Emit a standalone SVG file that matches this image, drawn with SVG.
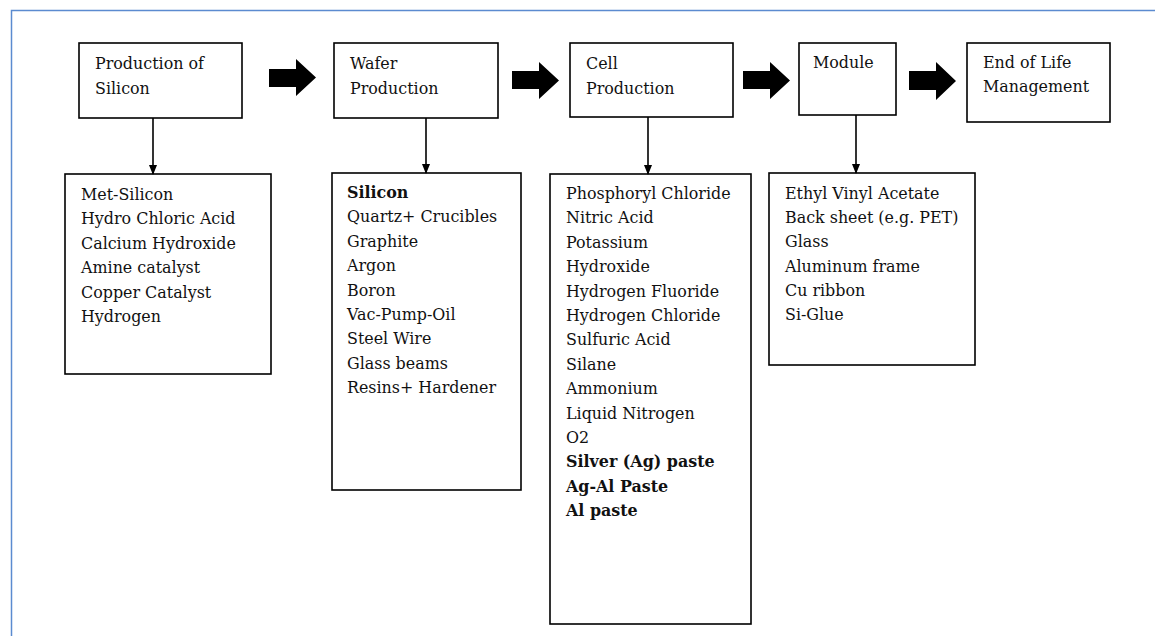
<svg xmlns="http://www.w3.org/2000/svg" width="1155" height="636" viewBox="0 0 1155 636">
<style>
.box{fill:#fff;stroke:#000;stroke-width:1.6}
.t{font-family:"DejaVu Serif","Liberation Serif",serif;font-size:15.9px;fill:#111}
.b{font-weight:bold}
.conn{stroke:#000;stroke-width:1.6;fill:none}
.blk{fill:#000}
</style>
<defs>
<marker id="ah" markerWidth="10" markerHeight="8" refX="9" refY="4" orient="auto" markerUnits="userSpaceOnUse">
<path d="M0,0 L10,4 L0,8 Z" fill="#000"/>
</marker>
</defs>
<rect width="1155" height="636" fill="#fff"/>
<path d="M11.5,640 V10.5 H1160" fill="none" stroke="#5b8bd0" stroke-width="1.5"/>

<g id="n1"><rect class="box" x="79" y="43" width="163" height="75"/><text class="t" x="95" y="69">Production of</text><text class="t" x="95" y="94">Silicon</text></g>
<g id="n2"><rect class="box" x="334" y="43" width="164" height="75"/><text class="t" x="350" y="69">Wafer</text><text class="t" x="350" y="94">Production</text></g>
<g id="n3"><rect class="box" x="570" y="43" width="163" height="74"/><text class="t" x="586" y="69">Cell</text><text class="t" x="586" y="94">Production</text></g>
<g id="n4"><rect class="box" x="799" y="43" width="97" height="72"/><text class="t" x="813" y="68">Module</text></g>
<g id="n5"><rect class="box" x="967" y="43" width="143" height="79"/><text class="t" x="983" y="68">End of Life</text><text class="t" x="983" y="92">Management</text></g>

<g id="d1"><rect class="box" x="65" y="174" width="206" height="200"/>
<text class="t" x="81" y="200">Met-Silicon</text>
<text class="t" x="81" y="224.4">Hydro Chloric Acid</text>
<text class="t" x="81" y="248.8">Calcium Hydroxide</text>
<text class="t" x="81" y="273.2">Amine catalyst</text>
<text class="t" x="81" y="297.6">Copper Catalyst</text>
<text class="t" x="81" y="322">Hydrogen</text>
</g>
<g id="d2"><rect class="box" x="332" y="173" width="189" height="317"/>
<text class="t b" x="347" y="198">Silicon</text>
<text class="t" x="347" y="222.4">Quartz+ Crucibles</text>
<text class="t" x="347" y="246.8">Graphite</text>
<text class="t" x="347" y="271.2">Argon</text>
<text class="t" x="347" y="295.6">Boron</text>
<text class="t" x="347" y="320">Vac-Pump-Oil</text>
<text class="t" x="347" y="344.4">Steel Wire</text>
<text class="t" x="347" y="368.8">Glass beams</text>
<text class="t" x="347" y="393.2">Resins+ Hardener</text>
</g>
<g id="d3"><rect class="box" x="550" y="174" width="201" height="450"/>
<text class="t" x="566" y="199">Phosphoryl Chloride</text>
<text class="t" x="566" y="223.4">Nitric Acid</text>
<text class="t" x="566" y="247.8">Potassium</text>
<text class="t" x="566" y="272.2">Hydroxide</text>
<text class="t" x="566" y="296.6">Hydrogen Fluoride</text>
<text class="t" x="566" y="321">Hydrogen Chloride</text>
<text class="t" x="566" y="345.4">Sulfuric Acid</text>
<text class="t" x="566" y="369.8">Silane</text>
<text class="t" x="566" y="394.2">Ammonium</text>
<text class="t" x="566" y="418.6">Liquid Nitrogen</text>
<text class="t" x="566" y="443">O2</text>
<text class="t b" x="566" y="467.4">Silver (Ag) paste</text>
<text class="t b" x="566" y="491.8">Ag-Al Paste</text>
<text class="t b" x="566" y="516.2">Al paste</text>
</g>
<g id="d4"><rect class="box" x="769" y="173" width="206" height="192"/>
<text class="t" x="785" y="199">Ethyl Vinyl Acetate</text>
<text class="t" x="785" y="223.2">Back sheet (e.g. PET)</text>
<text class="t" x="785" y="247.4">Glass</text>
<text class="t" x="785" y="271.6">Aluminum frame</text>
<text class="t" x="785" y="295.8">Cu ribbon</text>
<text class="t" x="785" y="320">Si-Glue</text>
</g>

<g id="connectors">
<polygon class="blk" points="269,69 296,69 296,59 316,77.5 296,96 296,87 269,87"/>
<polygon class="blk" points="512,71 539,71 539,62 559,80.5 539,99 539,89 512,89"/>
<polygon class="blk" points="743,71 770,71 770,62 790,80.5 770,99 770,89 743,89"/>
<polygon class="blk" points="909,71 936,71 936,62 956,81 936,100 936,90 909,90"/>
<line class="conn" x1="153" y1="118" x2="153" y2="174" marker-end="url(#ah)"/>
<line class="conn" x1="426" y1="118" x2="426" y2="173" marker-end="url(#ah)"/>
<line class="conn" x1="648" y1="117" x2="648" y2="174" marker-end="url(#ah)"/>
<line class="conn" x1="856" y1="115" x2="856" y2="173" marker-end="url(#ah)"/>
</g>
</svg>
